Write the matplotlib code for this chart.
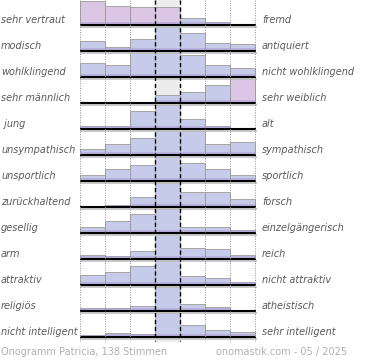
import matplotlib
matplotlib.use("Agg")
import matplotlib.pyplot as plt

# adjective pairs (left / right end of each scale)
left_labels = ["sehr vertraut", "modisch", "wohlklingend", "sehr männlich", " jung",
               "unsympathisch", "unsportlich", "zurückhaltend", "gesellig", "arm",
               "attraktiv", "religiös", "nicht intelligent"]
right_labels = ["fremd", "antiquiert", "nicht wohlklingend", "sehr weiblich", "alt",
                "sympathisch", "sportlich", "forsch", "einzelgängerisch", "reich",
                "nicht attraktiv", "atheistisch", "sehr intelligent"]

# bar heights per row, 7 steps, in % of row height (100 = full row)
votes = [
    [99, 78, 72, 72, 27, 11, 0],
    [42, 18, 48, 100, 72, 34, 27],
    [57, 51, 100, 100, 90, 51, 38],
    [0, 0, 0, 31, 46, 73, 100],
    [14, 12, 72, 100, 41, 11, 6],
    [23, 45, 68, 100, 100, 44, 52],
    [24, 48, 64, 100, 75, 49, 24],
    [0, 8, 41, 100, 61, 61, 31],
    [24, 51, 79, 100, 23, 23, 11],
    [16, 11, 31, 100, 45, 41, 15],
    [41, 54, 78, 100, 38, 30, 11],
    [13, 11, 22, 100, 27, 18, 4],
    [9, 16, 12, 100, 49, 29, 19],
]

# bars drawn in the pink tone (row, step)
highlight = [(0, 0), (0, 1), (0, 2), (0, 3), (3, 6)]

footer_left = "Onogramm Patricia, 138 Stimmen"
footer_right = "onomastik.com - 05 / 2025"

X0 = 80        # left edge of the scale
STEP = 25      # width of one step
ROW = 26       # row pitch
FULL = 24.5    # full bar height
TOP = 25       # baseline of first row

fig = plt.figure(figsize=(3.7, 3.6), dpi=100)
ax = fig.add_axes([0, 0, 1, 1])
ax.set_xlim(0, 370)
ax.set_ylim(360, 0)
ax.axis("off")

n = len(votes)
bottom = TOP + ROW * (n - 1) + 4

# middle column background
ax.fill_between([X0 + 3 * STEP, X0 + 4 * STEP], 0, bottom, color="#ececec", zorder=0)

for i, row in enumerate(votes):
    base = TOP + ROW * i
    for j, v in enumerate(row):
        h = min(v, 100) / 100 * FULL
        if h <= 0:
            continue
        col = "#dcc6e6" if (i, j) in highlight else "#c6cbe9"
        x = X0 + STEP * j + STEP / 2
        ax.bar(x, -h, width=STEP, bottom=base, color=col,
               edgecolor="#a6a6a6", linewidth=0.7, zorder=2)
        # darker strip at the foot of the bar
        ax.bar(x, -min(h, 3), width=STEP - 1, bottom=base, color="#ad9fd2",
               alpha=0.55, linewidth=0, zorder=3)
    # baseline with a soft shadow
    ax.hlines(base + 1.5, X0, X0 + 7 * STEP + 2, color="#c0c0c0", lw=1.2, zorder=4)
    ax.hlines(base, X0, X0 + 7 * STEP + 1, color="black", lw=1.5, zorder=5)

    ax.text(1, base - 5, left_labels[i], fontsize=7, style="italic",
            color="#5a5a5a", va="center", ha="left")
    ax.text(262, base - 5, right_labels[i], fontsize=7, style="italic",
            color="#5a5a5a", va="center", ha="left")

# grid lines
for k in [0, 1, 2, 5, 6, 7]:
    ax.vlines(X0 + STEP * k, 0, bottom, color="#909090", lw=0.7,
              linestyles=(0, (1, 1.5)), zorder=6)
for k in [3, 4]:
    ax.vlines(X0 + STEP * k, 0, bottom, color="black", lw=1.0,
              linestyles=(0, (3, 2)), zorder=6)

ax.text(1, 352, footer_left, fontsize=7, color="#b0b0b0", va="center", ha="left")
ax.text(347, 352, footer_right, fontsize=7, color="#b0b0b0", va="center", ha="right")

fig.savefig("out.png", dpi=100)
